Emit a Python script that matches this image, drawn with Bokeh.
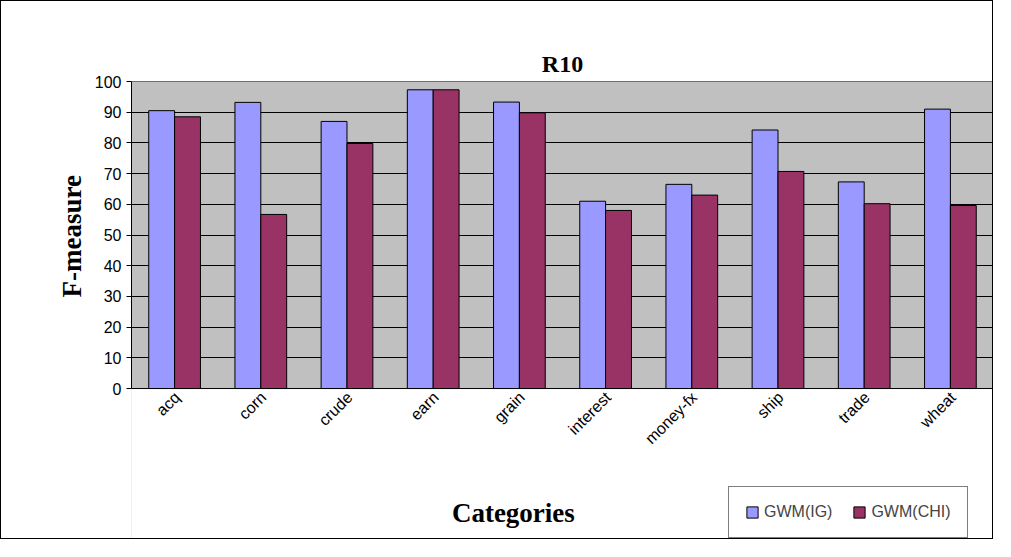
from bokeh.plotting import figure
from bokeh.models import Legend, LegendItem, ColumnDataSource, Label, Title
from bokeh.core.properties import value
from bokeh.transform import dodge
from bokeh.embed import file_html
from bokeh.resources import INLINE
from math import pi

categories = ["acq", "corn", "crude", "earn", "grain", "interest",
              "money-fx", "ship", "trade", "wheat"]
gwm_ig = [90.5, 93.2, 87, 97.3, 93.3, 61, 66.5, 84.2, 67.3, 91]
gwm_chi = [88.5, 56.7, 79.8, 97.3, 89.8, 58, 63, 70.7, 60.2, 59.6]

src = ColumnDataSource(dict(cat=categories, ig=gwm_ig, chi=gwm_chi))
n = len(categories)

p = figure(width=993, height=539, x_range=categories, y_range=(-49.5, 100),
           output_backend="svg", toolbar_location=None,
           min_border_left=130, min_border_right=1, min_border_top=80,
           min_border_bottom=0)
p.styles = {"border": "1px solid black"}
p.outline_line_color = None
p.background_fill_color = "#c0c0c0"
p.border_fill_color = "white"

# white area under the plot, then the plot-area border
p.quad(left=-0.2, right=n + 0.2, bottom=-50, top=0, fill_color="white", line_color=None)
p.quad(left=0, right=n, bottom=0, top=100, fill_color=None, line_color="black")

r1 = p.vbar(x=dodge("cat", -0.15, range=p.x_range), top="ig", width=0.3,
            source=src, fill_color="#9999ff", line_color="black")
r2 = p.vbar(x=dodge("cat", 0.15, range=p.x_range), top="chi", width=0.3,
            source=src, fill_color="#993366", line_color="black")

# category tick labels
p.text(x=dodge("cat", 0.03, range=p.x_range), y=-2, text="cat", source=src,
       angle=pi / 4, text_align="right", text_baseline="middle",
       text_font=value("Liberation Sans"), text_font_size="16px", text_color="black")

p.title.text = "R10"
p.title.align = "center"
p.title.text_font = "Liberation Serif"
p.title.text_font_size = "24px"
p.title.text_font_style = "bold"
p.title.text_color = "black"
p.title.offset = -5

p.xaxis.visible = False
p.xgrid.grid_line_color = None
p.ygrid.grid_line_color = "black"
p.yaxis.ticker = list(range(0, 101, 10))
p.ygrid.ticker = list(range(10, 100, 10))
p.yaxis.bounds = (0, 100)
p.yaxis.minor_tick_line_color = None
p.yaxis.major_label_text_font = "Liberation Sans"
p.yaxis.major_label_text_font_size = "16px"
p.yaxis.major_label_text_color = "black"
p.yaxis.axis_line_color = "black"
p.yaxis.major_tick_line_color = "black"
p.yaxis.major_tick_in = 0
p.yaxis.major_tick_out = 5

p.add_layout(Title(text="F-measure", align="left", offset=243,
                   text_font="Liberation Serif", text_font_size="27px",
                   text_font_style="bold", text_color="black"), "left")

p.add_layout(Label(x=4.43, y=-45.5, text="Categories", text_align="center",
                   text_font="Liberation Serif", text_font_size="27px",
                   text_font_style="bold", text_color="black"))

legend = Legend(items=[LegendItem(label="GWM(IG)", renderers=[r1]),
                       LegendItem(label="GWM(CHI)", renderers=[r2])],
                location=(597, 2), orientation="horizontal",
                border_line_color="black", label_text_font="Liberation Sans",
                label_text_font_size="16px", glyph_width=14, glyph_height=14,
                spacing=20, padding=16, background_fill_color="white")
p.add_layout(legend, "center")

open("out.html", "w").write(file_html(p, INLINE))
